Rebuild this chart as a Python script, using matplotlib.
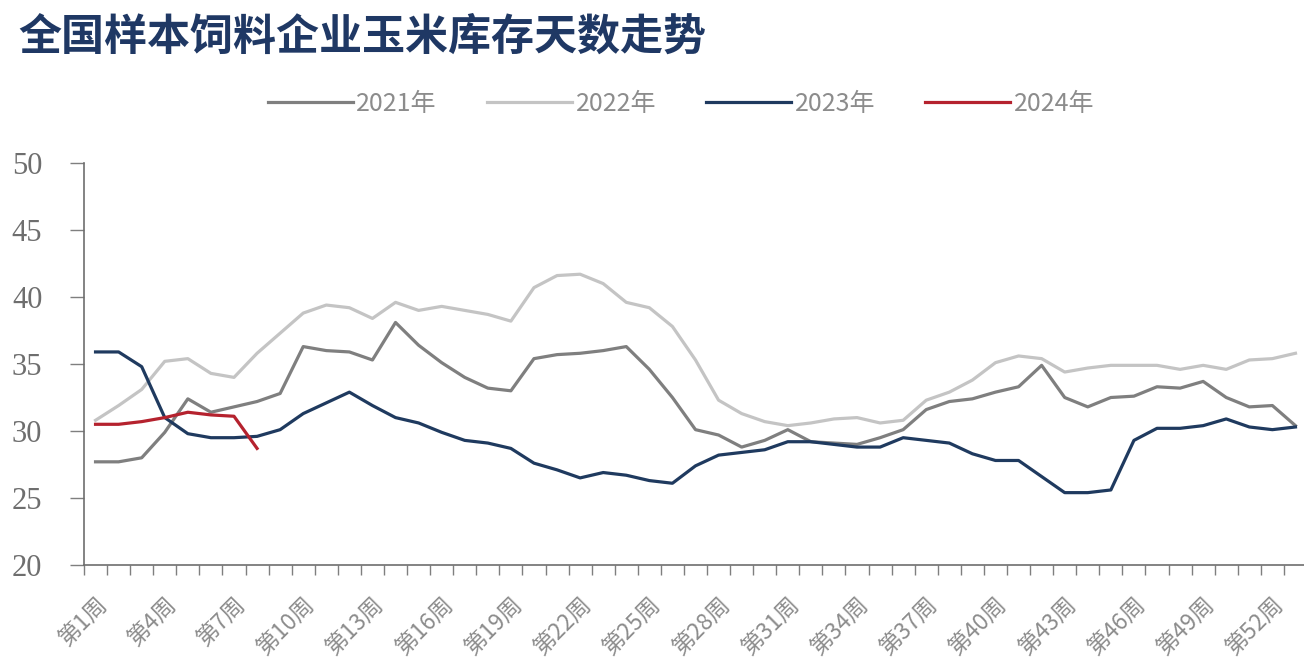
import numpy as np
import matplotlib
matplotlib.use("Agg")
import matplotlib.pyplot as plt
from matplotlib.ticker import MultipleLocator, FixedLocator

plt.rcParams['font.family'] = ['Noto Sans CJK SC', 'DejaVu Sans']

# data: weekly corn inventory days of sample feed mills
weeks = list(range(1, 54))
tick_weeks = list(range(1, 53, 3))
tick_labels = ["第%d周" % w for w in tick_weeks]

y2021 = [27.7, 27.7, 28.0, 29.9, 32.4, 31.4, 31.8, 32.2, 32.8, 36.3,
         36.0, 35.9, 35.3, 38.1, 36.4, 35.1, 34.0, 33.2, 33.0, 35.4,
         35.7, 35.8, 36.0, 36.3, 34.6, 32.5, 30.1, 29.7, 28.8, 29.3,
         30.1, 29.2, 29.1, 29.0, 29.5, 30.1, 31.6, 32.2, 32.4, 32.9,
         33.3, 34.9, 32.5, 31.8, 32.5, 32.6, 33.3, 33.2, 33.7, 32.5,
         31.8, 31.9, 30.4]
y2022 = [30.8, 31.9, 33.1, 35.2, 35.4, 34.3, 34.0, 35.8, 37.3, 38.8,
         39.4, 39.2, 38.4, 39.6, 39.0, 39.3, 39.0, 38.7, 38.2, 40.7,
         41.6, 41.7, 41.0, 39.6, 39.2, 37.8, 35.3, 32.3, 31.3, 30.7,
         30.4, 30.6, 30.9, 31.0, 30.6, 30.8, 32.3, 32.9, 33.8, 35.1,
         35.6, 35.4, 34.4, 34.7, 34.9, 34.9, 34.9, 34.6, 34.9, 34.6,
         35.3, 35.4, 35.8]
y2023 = [35.9, 35.9, 34.8, 31.0, 29.8, 29.5, 29.5, 29.6, 30.1, 31.3,
         32.1, 32.9, 31.9, 31.0, 30.6, 29.9, 29.3, 29.1, 28.7, 27.6,
         27.1, 26.5, 26.9, 26.7, 26.3, 26.1, 27.4, 28.2, 28.4, 28.6,
         29.2, 29.2, 29.0, 28.8, 28.8, 29.5, 29.3, 29.1, 28.3, 27.8,
         27.8, 26.6, 25.4, 25.4, 25.6, 29.3, 30.2, 30.2, 30.4, 30.9,
         30.3, 30.1, 30.3]
y2024 = [30.5, 30.5, 30.7, 31.0, 31.4, 31.2, 31.1, 28.7]

series = [("2021年", y2021, "#7f7f7f"),
          ("2022年", y2022, "#c4c4c4"),
          ("2023年", y2023, "#1f3a5f"),
          ("2024年", y2024, "#b5222e")]

W, H = 1304, 668
fig = plt.figure(figsize=(W / 100, H / 100), dpi=100)
ax = fig.add_axes([84 / W, 1 - 565 / H, (1307 - 84) / W, (565 - 163) / H])

for name, vals, col in series:
    ax.plot(weeks[:len(vals)], vals, color=col, lw=2.3, label=name,
            solid_joinstyle="round")

ax.set_xlim(0.5, 53.5)
ax.set_ylim(20, 50)
ax.yaxis.set_major_locator(MultipleLocator(5))

ax.set_xticks(tick_weeks)
ax.set_xticklabels(tick_labels, rotation=45, ha="right", rotation_mode="anchor",
                   fontsize=16.5, color="#8c8c8c")
ax.xaxis.set_minor_locator(FixedLocator(np.arange(0.5, 54, 1)))
ax.tick_params(axis="x", which="major", length=0, pad=20)
ax.tick_params(axis="x", which="minor", length=7, width=1, color="#7f7f7f",
               direction="out")
ax.tick_params(axis="y", length=10, width=1, color="#7f7f7f", pad=20)
for lab in ax.get_yticklabels():
    lab.set_family(["Liberation Serif", "DejaVu Serif"])
    lab.set_fontsize(22)
    lab.set_color("#6e6e6e")

for s in ["top", "right"]:
    ax.spines[s].set_visible(False)
for s in ["left", "bottom"]:
    ax.spines[s].set_color("#6e6e6e")
    ax.spines[s].set_linewidth(1.2)

leg = fig.legend(loc="center", bbox_to_anchor=(681 / W, 1 - 104 / H), ncol=4,
                 frameon=False, fontsize=18, handlelength=3.4, handletextpad=0.15,
                 columnspacing=2.0)
for t in leg.get_texts():
    t.set_color("#8c8c8c")

fig.text(18 / W, 1 - 37 / H, "全国样本饲料企业玉米库存天数走势", fontsize=31,
         fontweight="bold", color="#1f3864", va="center", ha="left")

fig.savefig("out.png", dpi=100)
